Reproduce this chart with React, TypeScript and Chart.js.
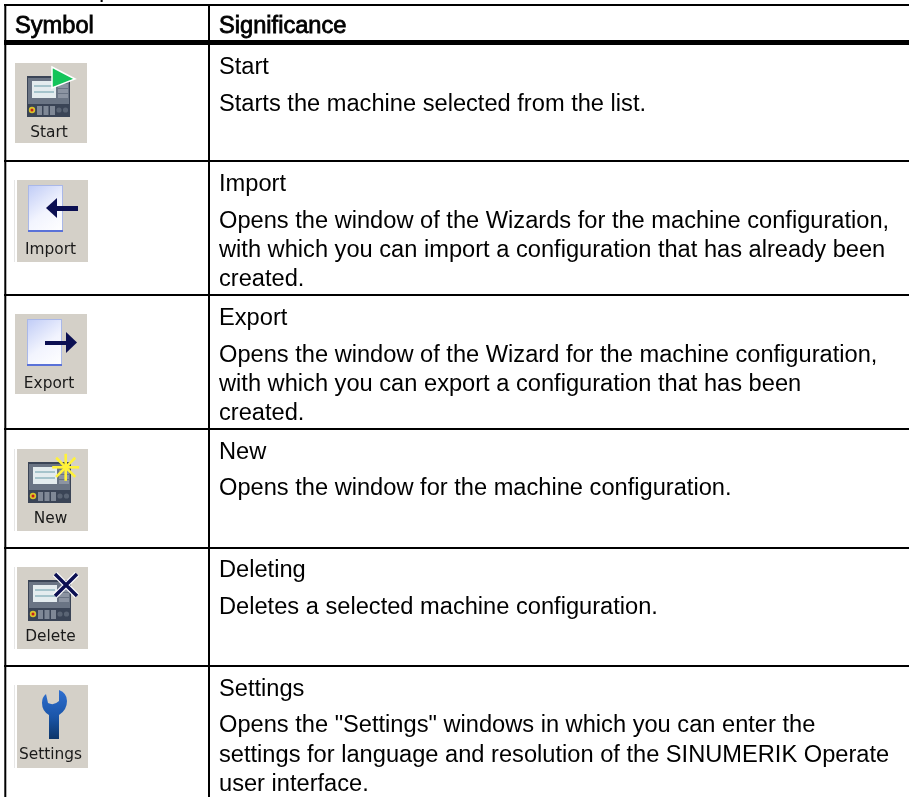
import React, { useEffect, useRef } from "react";
import { Chart, registerables } from "chart.js";

Chart.register(...registerables);

const WIDTH = 909;
const HEIGHT = 797;

const columnHeaders = ["Symbol", "Significance"];
const symbolCaptions = ["Start", "Import", "Export", "New", "Delete", "Settings"];
const headings = ["Start", "Import", "Export", "New", "Deleting", "Settings"];
const descriptions = [
  ["Starts the machine selected from the list."],
  [
    "Opens the window of the Wizards for the machine configuration,",
    "with which you can import a configuration that has already been",
    "created.",
  ],
  [
    "Opens the window of the Wizard for the machine configuration,",
    "with which you can export a configuration that has been",
    "created.",
  ],
  ["Opens the window for the machine configuration."],
  ["Deletes a selected machine configuration."],
  [
    'Opens the "Settings" windows in which you can enter the',
    "settings for language and resolution of the SINUMERIK Operate",
    "user interface.",
  ],
];

const rowRules = [161, 295, 429, 548, 666];
const headingBaselines = [74, 190.6, 325, 458.7, 576.7, 696];
const descriptionBaselines = [110.6, 227.7, 361.7, 495, 614, 732.3];
const iconBoxes = [
  [15, 63, 72, 80],
  [17, 180, 71, 82],
  [15, 314, 72, 80],
  [17, 449, 71, 82],
  [17, 567, 71, 82],
  [17, 685, 71, 83],
];

const FONT = '"Liberation Sans", Arial, sans-serif';
const CAPTION_FONT = '"DejaVu Sans", Tahoma, sans-serif';

const panelIcon = (ctx: CanvasRenderingContext2D, x: number, y: number) => {
  ctx.fillStyle = "#3a4456";
  ctx.fillRect(x, y, 43, 41);
  ctx.fillStyle = "#6a7484";
  ctx.fillRect(x + 1, y + 2, 41, 26);
  ctx.fillStyle = "#e4ecef";
  ctx.fillRect(x + 5, y + 5, 24, 17);
  ctx.fillStyle = "#a6c4cc";
  ctx.fillRect(x + 7, y + 9, 20, 2);
  ctx.fillRect(x + 7, y + 15, 20, 2);
  ctx.fillStyle = "#8c94a2";
  for (let i = 0; i < 3; i++) ctx.fillRect(x + 31, y + 8 + i * 5, 10, 4);
  ctx.fillStyle = "#d8c42a";
  ctx.beginPath();
  ctx.arc(x + 5, y + 34, 3.2, 0, Math.PI * 2);
  ctx.fill();
  ctx.fillStyle = "#c81e1e";
  ctx.beginPath();
  ctx.arc(x + 5, y + 34, 1.5, 0, Math.PI * 2);
  ctx.fill();
  ctx.fillStyle = "#7f8896";
  for (let i = 0; i < 3; i++) ctx.fillRect(x + 10 + i * 6.5, y + 30, 5, 9);
  ctx.fillStyle = "#5a6474";
  ctx.beginPath();
  ctx.arc(x + 32, y + 34, 2.6, 0, Math.PI * 2);
  ctx.arc(x + 38.5, y + 34, 2.6, 0, Math.PI * 2);
  ctx.fill();
};

const docIcon = (ctx: CanvasRenderingContext2D, x: number, y: number) => {
  const g = ctx.createLinearGradient(x, y, x + 35, y + 46);
  g.addColorStop(0, "#bfcbf6");
  g.addColorStop(0.55, "#f2f4fe");
  g.addColorStop(1, "#ffffff");
  ctx.fillStyle = g;
  ctx.fillRect(x, y, 35, 46);
  ctx.strokeStyle = "#aab8e8";
  ctx.lineWidth = 1;
  ctx.strokeRect(x + 0.5, y + 0.5, 34, 46);
  ctx.fillStyle = "#5a72d8";
  ctx.fillRect(x, y + 45, 35, 2);
};

const drawGlyph = (ctx: CanvasRenderingContext2D, i: number, x: number, y: number) => {
  const navy = "#0b0f52";
  if (i === 0) {
    panelIcon(ctx, x + 12, y + 13);
    ctx.beginPath();
    ctx.moveTo(x + 37, y + 4);
    ctx.lineTo(x + 60, y + 16);
    ctx.lineTo(x + 37, y + 25);
    ctx.closePath();
    ctx.fillStyle = "#14c45a";
    ctx.strokeStyle = "#ffffff";
    ctx.lineWidth = 1.5;
    ctx.fill();
    ctx.stroke();
  } else if (i === 1) {
    docIcon(ctx, x + 11, y + 5);
    ctx.fillStyle = navy;
    ctx.fillRect(x + 38, y + 26, 23, 5);
    ctx.beginPath();
    ctx.moveTo(x + 29, y + 28);
    ctx.lineTo(x + 40, y + 18);
    ctx.lineTo(x + 40, y + 38);
    ctx.closePath();
    ctx.fill();
  } else if (i === 2) {
    docIcon(ctx, x + 12, y + 5);
    ctx.fillStyle = navy;
    ctx.fillRect(x + 30, y + 27, 22, 4);
    ctx.beginPath();
    ctx.moveTo(x + 62, y + 28.5);
    ctx.lineTo(x + 51, y + 18);
    ctx.lineTo(x + 51, y + 39);
    ctx.closePath();
    ctx.fill();
  } else if (i === 3) {
    panelIcon(ctx, x + 11, y + 13);
    ctx.strokeStyle = "#fff23a";
    ctx.lineWidth = 2.6;
    const cx = x + 48.7;
    const cy = y + 18.3;
    for (let a = 0; a < 4; a++) {
      const t = (a * Math.PI) / 4;
      ctx.beginPath();
      ctx.moveTo(cx - 13.5 * Math.cos(t), cy - 13.5 * Math.sin(t));
      ctx.lineTo(cx + 13.5 * Math.cos(t), cy + 13.5 * Math.sin(t));
      ctx.stroke();
    }
  } else if (i === 4) {
    panelIcon(ctx, x + 11, y + 13);
    ctx.lineWidth = 6;
    ctx.strokeStyle = "#ffffff";
    for (let pass = 0; pass < 2; pass++) {
      ctx.beginPath();
      ctx.moveTo(x + 38, y + 7);
      ctx.lineTo(x + 60, y + 29);
      ctx.moveTo(x + 60, y + 7);
      ctx.lineTo(x + 38, y + 29);
      ctx.stroke();
      ctx.lineWidth = 3.5;
      ctx.strokeStyle = navy;
    }
  } else {
    const g = ctx.createLinearGradient(0, y + 5, 0, y + 54);
    g.addColorStop(0, "#2f6fd0");
    g.addColorStop(0.55, "#1a55a8");
    g.addColorStop(1, "#0c3468");
    ctx.fillStyle = g;
    ctx.beginPath();
    ctx.moveTo(x + 29, y + 9);
    ctx.lineTo(x + 31, y + 18);
    ctx.quadraticCurveTo(x + 37, y + 21, x + 42, y + 16);
    ctx.lineTo(x + 42, y + 5);
    ctx.quadraticCurveTo(x + 50, y + 8, x + 50, y + 16);
    ctx.quadraticCurveTo(x + 50, y + 25, x + 42, y + 30);
    ctx.lineTo(x + 42, y + 54);
    ctx.lineTo(x + 32, y + 54);
    ctx.lineTo(x + 32, y + 30);
    ctx.quadraticCurveTo(x + 25, y + 26, x + 25, y + 18);
    ctx.quadraticCurveTo(x + 25, y + 12, x + 29, y + 9);
    ctx.closePath();
    ctx.fill();
  }
};

const tablePlugin = {
  id: "tablePlugin",
  afterDatasetsDraw(chart: any) {
    const { ctx, scales } = chart;
    const px = (v: number) => scales.x.getPixelForValue(v);
    const py = (v: number) => scales.y.getPixelForValue(v);
    ctx.save();
    (ctx as any).filter = "blur(0.35px)";
    ctx.textBaseline = "alphabetic";
    ctx.textAlign = "left";
    ctx.fillStyle = "#000000";
    ctx.strokeStyle = "#000000";
    ctx.lineWidth = 0.8;
    ctx.font = `23.65px ${FONT}`;
    ctx.fillText("p", px(99), py(-3));
    ctx.fillText(columnHeaders[0], px(15), py(33));
    ctx.strokeText(columnHeaders[0], px(15), py(33));
    ctx.fillText(columnHeaders[1], px(219), py(33));
    ctx.strokeText(columnHeaders[1], px(219), py(33));

    headings.forEach((h, i) => {
      ctx.fillStyle = "#000000";
      ctx.font = `23.65px ${FONT}`;
      ctx.fillText(h, px(219), py(headingBaselines[i]));
      descriptions[i].forEach((line, j) => {
        ctx.fillText(line, px(219), py(descriptionBaselines[i] + j * 29.2));
      });
      const [x, y, w, h2] = iconBoxes[i];
      ctx.save();
      (ctx as any).filter = "blur(0.5px)";
      if (x === 17) {
        ctx.fillStyle = "#e6e6e6";
        ctx.fillRect(px(x - 3), py(y), 1, h2);
      }
      ctx.fillStyle = "#d4d0c8";
      ctx.fillRect(px(x), py(y), w, h2);
      drawGlyph(ctx, i, px(x), py(y));
      ctx.fillStyle = "#1a1a1a";
      ctx.font = `15.4px ${CAPTION_FONT}`;
      ctx.textAlign = "center";
      ctx.fillText(symbolCaptions[i], px(x + w / 2 - 2), py(y + 74));
      ctx.restore();
    });
    ctx.restore();
  },
};

const ruleDataset = (x0: number, y0: number, x1: number, y1: number, w: number) => ({
  type: "line" as const,
  data: [
    { x: x0, y: y0 },
    { x: x1, y: y1 },
  ],
  borderColor: "#000000",
  borderWidth: w,
  pointRadius: 0,
});

export default function App() {
  const ref = useRef<HTMLCanvasElement>(null);
  useEffect(() => {
    document.body.style.margin = "0";
    document.body.style.background = "#ffffff";
    const chart = new Chart(ref.current as HTMLCanvasElement, {
      type: "line",
      data: {
        datasets: [
          ruleDataset(4, 5, 909, 5, 2),
          ruleDataset(4, 42.5, 909, 42.5, 5),
          ruleDataset(5.3, 4, 5.3, 797, 2),
          ruleDataset(209, 4, 209, 797, 2),
          ...rowRules.map((r) => ruleDataset(4, r, 909, r, 2)),
        ],
      },
      options: {
        responsive: false,
        animation: false,
        layout: { padding: 0 },
        plugins: { legend: { display: false }, tooltip: { enabled: false } },
        scales: {
          x: { type: "linear", min: 0, max: WIDTH, display: false },
          y: { type: "linear", min: 0, max: HEIGHT, reverse: true, display: false },
        },
      },
      plugins: [tablePlugin],
    });
    return () => chart.destroy();
  }, []);
  return (
    <div style={{ width: WIDTH, height: HEIGHT }}>
      <canvas ref={ref} width={WIDTH} height={HEIGHT} style={{ display: "block" }} />
    </div>
  );
}
